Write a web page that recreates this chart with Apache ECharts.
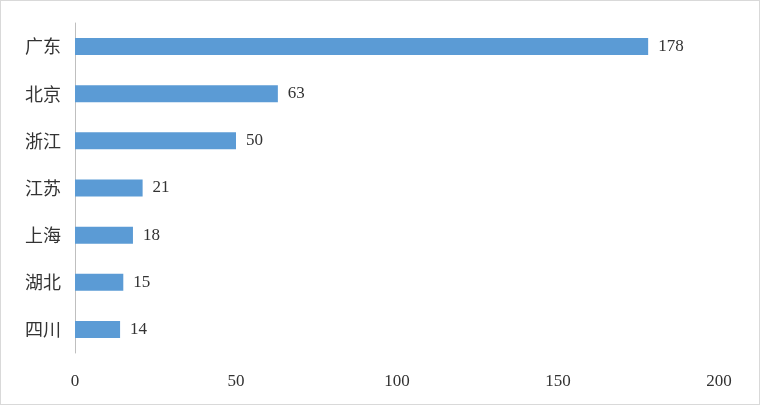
<!DOCTYPE html>
<html>
<head>
<meta charset="utf-8">
<script src="https://cdn.jsdelivr.net/npm/echarts@6/dist/echarts.min.js"></script>
<style>
html, body { margin: 0; padding: 0; background: #fff; }
#chart { width: 758px; height: 403px; border: 1px solid #d9d9d9; }
</style>
</head>
<body>
<div id="chart"></div>
<script>
var provinces = ['广东', '北京', '浙江', '江苏', '上海', '湖北', '四川'];
var counts = [178, 63, 50, 21, 18, 15, 14];

var myChart = echarts.init(document.getElementById('chart'));

var option = {
    animation: false,
    grid: {
        left: 74,
        right: 40,
        top: 22,
        height: 330
    },
    xAxis: {
        type: 'value',
        min: 0,
        max: 200,
        interval: 50,
        axisLine: { show: false },
        axisTick: { show: false },
        splitLine: { show: false },
        axisLabel: {
            color: '#333',
            fontSize: 17,
            fontFamily: 'Liberation Serif',
            margin: 20
        }
    },
    yAxis: {
        type: 'category',
        inverse: true,
        data: provinces,
        axisLine: { show: true, lineStyle: { color: '#bfbfbf' } },
        axisTick: { show: false },
        axisLabel: {
            color: '#333',
            fontSize: 18,
            fontFamily: 'Noto Sans CJK SC',
            margin: 14
        }
    },
    series: [
        {
            type: 'bar',
            data: counts,
            barWidth: 17,
            itemStyle: { color: '#5b9bd5' },
            label: {
                show: true,
                position: 'right',
                distance: 10,
                color: '#333',
                fontSize: 17,
                fontFamily: 'Liberation Serif'
            }
        }
    ]
};

myChart.setOption(option);
</script>
</body>
</html>
